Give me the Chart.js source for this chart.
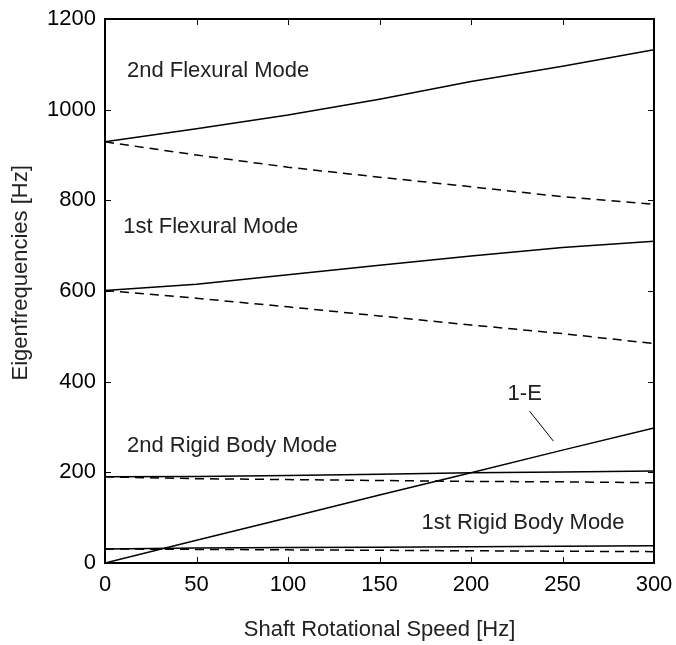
<!DOCTYPE html>
<html>
<head>
<meta charset="utf-8">
<script src="https://cdn.jsdelivr.net/npm/chart.js@4"></script>
<style>
  html, body { margin: 0; padding: 0; background: #fff; }
  #wrap { width: 676px; height: 645px; }
</style>
</head>
<body>
<div id="wrap"><canvas id="modes" width="676" height="645"></canvas></div>
<script>
// shaft speed [Hz]
var speed = [0, 50, 100, 150, 200, 250, 300];

// eigenfrequencies [Hz]
var flex2Fwd = [929, 958, 988, 1023, 1062, 1096, 1132];
var flex2Bwd = [929, 900, 873, 851, 830, 808, 791];
var flex1Fwd = [601, 615, 636, 657, 677, 696, 710];
var flex1Bwd = [601, 584, 565, 545, 525, 506, 484];
var rigid2Fwd = [190, 191, 193, 196, 199, 201, 203];
var rigid2Bwd = [190, 186, 184, 182, 180, 179, 177];
var rigid1Fwd = [31, 33, 34, 35, 36, 37, 38];
var rigid1Bwd = [31, 30, 29, 28, 27, 26, 25];
var oneE = [0, 50, 100, 150, 199, 249, 298];

var xTicks = [0, 50, 100, 150, 200, 250, 300];
var yTicks = [0, 200, 400, 600, 800, 1000, 1200];

// text notes, placed in data units
var notes = [
    { text: '2nd Flexural Mode', x: 12, y: 1085 },
    { text: '1st Flexural Mode', x: 10, y: 741 },
    { text: '2nd Rigid Body Mode', x: 12, y: 258 },
    { text: '1st Rigid Body Mode', x: 173, y: 88 },
    { text: '1-E', x: 220, y: 373 }
];
var leader = { x1: 232, y1: 335, x2: 245, y2: 269 };
var yTitle = { text: 'Eigenfrequencies [Hz]', y: 640 };

const FONT = '"Liberation Sans", Arial, Helvetica, sans-serif';

function toXY(vals) {
    return speed.map((s, i) => ({ x: s, y: vals[i] }));
}

function line(vals, dashed) {
    return {
        data: toXY(vals),
        borderColor: '#000',
        borderWidth: 1.5,
        borderDash: dashed ? [9, 6] : [],
        pointRadius: 0,
        tension: 0,
        fill: false
    };
}

const frame = {
    id: 'frame',
    afterDatasetsDraw(chart) {
        let { ctx, chartArea: a, scales: { x, y } } = chart;
        ctx.save();
        ctx.strokeStyle = '#000';
        ctx.lineWidth = 2;
        ctx.strokeRect(a.left, a.top, a.right - a.left, a.bottom - a.top);

        // inward ticks on all four sides
        ctx.lineWidth = 1;
        ctx.beginPath();
        xTicks.slice(1, -1).forEach(v => {
            let px = Math.round(x.getPixelForValue(v)) + 0.5;
            ctx.moveTo(px, a.bottom); ctx.lineTo(px, a.bottom - 6);
            ctx.moveTo(px, a.top); ctx.lineTo(px, a.top + 6);
        });
        yTicks.slice(1, -1).forEach(v => {
            let py = Math.round(y.getPixelForValue(v)) + 0.5;
            ctx.moveTo(a.left, py); ctx.lineTo(a.left + 6, py);
            ctx.moveTo(a.right, py); ctx.lineTo(a.right - 6, py);
        });
        ctx.stroke();

        // notes
        ctx.fillStyle = '#222';
        ctx.font = '22px ' + FONT;
        ctx.textBaseline = 'middle';
        ctx.textAlign = 'left';
        notes.forEach(n => {
            ctx.fillText(n.text, x.getPixelForValue(n.x), y.getPixelForValue(n.y));
        });

        ctx.strokeStyle = '#000';
        ctx.lineWidth = 1;
        ctx.beginPath();
        ctx.moveTo(x.getPixelForValue(leader.x1), y.getPixelForValue(leader.y1));
        ctx.lineTo(x.getPixelForValue(leader.x2), y.getPixelForValue(leader.y2));
        ctx.stroke();

        // y axis title, a little above the axis middle as in the source
        ctx.translate(21, y.getPixelForValue(yTitle.y));
        ctx.rotate(-Math.PI / 2);
        ctx.textAlign = 'center';
        ctx.fillText(yTitle.text, 0, 0);
        ctx.restore();
    }
};

new Chart(document.getElementById('modes').getContext('2d'), {
    type: 'line',
    data: {
        datasets: [
            line(flex2Fwd, false),
            line(flex2Bwd, true),
            line(flex1Fwd, false),
            line(flex1Bwd, true),
            line(rigid2Fwd, false),
            line(rigid2Bwd, true),
            line(rigid1Fwd, false),
            line(rigid1Bwd, true),
            line(oneE, false)
        ]
    },
    options: {
        responsive: false,
        animation: false,
        devicePixelRatio: 1,
        layout: { padding: { top: 19, right: 22, left: 0, bottom: 0 } },
        plugins: { legend: { display: false }, tooltip: { enabled: false } },
        scales: {
            x: {
                type: 'linear',
                min: 0,
                max: 300,
                afterFit: s => { s.height = 82; s.paddingLeft = 0; s.paddingRight = 0; },
                afterBuildTicks: s => { s.ticks = xTicks.map(v => ({ value: v })); },
                grid: { display: false, drawTicks: false },
                border: { display: false },
                ticks: {
                    color: '#000', padding: 9, maxRotation: 0,
                    font: { size: 22, family: FONT },
                    callback: v => String(v)
                },
                title: {
                    display: true,
                    text: 'Shaft Rotational Speed [Hz]',
                    color: '#222',
                    padding: { top: 0, bottom: 2 },
                    font: { size: 22, family: FONT }
                }
            },
            y: {
                min: 0,
                max: 1200,
                afterFit: s => { s.width = 105; s.paddingTop = 0; s.paddingBottom = 0; },
                afterBuildTicks: s => { s.ticks = yTicks.map(v => ({ value: v })); },
                grid: { display: false, drawTicks: false },
                border: { display: false },
                ticks: {
                    color: '#000', padding: 9,
                    font: { size: 22, family: FONT },
                    callback: v => String(v)
                }
            }
        }
    },
    plugins: [frame]
});
</script>
</body>
</html>
